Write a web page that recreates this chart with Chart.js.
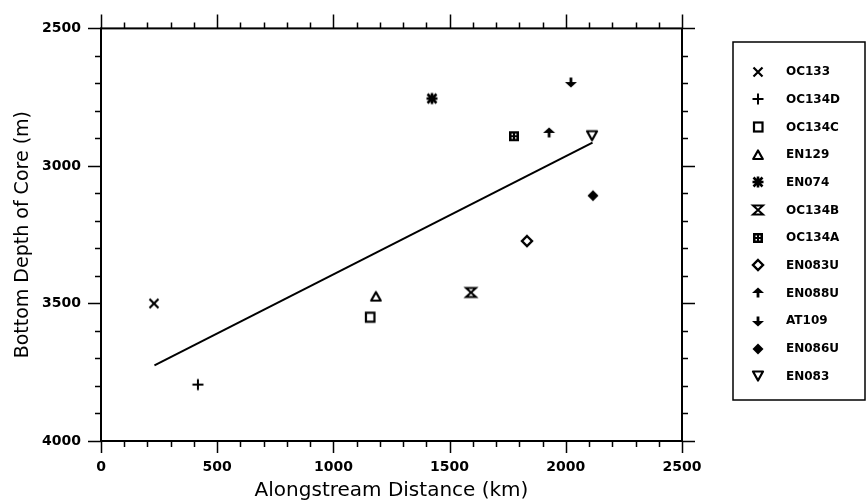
<!DOCTYPE html>
<html>
<head>
<meta charset="utf-8">
<script src="https://cdn.jsdelivr.net/npm/chart.js@4.4.1/dist/chart.umd.min.js"></script>
<style>
  html, body { margin: 0; padding: 0; background: #fff; }
</style>
</head>
<body>
<canvas id="chart" width="867" height="503"></canvas>
<script>
// cores, in legend order
const coreNames = ['OC133', 'OC134D', 'OC134C', 'EN129', 'EN074', 'OC134B',
                   'OC134A', 'EN083U', 'EN088U', 'AT109', 'EN086U', 'EN083'];
const distanceKm = [228, 417, 1157, 1183, 1424, 1592, 1777, 1833, 1928, 2022, 2117, 2113];
const depthM = [3500, 3795, 3550, 3475, 2755, 3460, 2892, 3273, 2880, 2695, 3108, 2890];
const markerKinds = ['x', 'plus', 'square', 'triangle', 'star', 'hourglass',
                     'dotbox', 'diamond', 'arrowUp', 'arrowDown', 'diamondFill', 'triangleDown'];

// regression line end points
const fitDistance = [230, 2115];
const fitDepth = [3725, 2915];

const xRange = [0, 2500];
const yRange = [2500, 4000];
const majorStep = 500;
const minorStep = 100;

function makeMarker(kind) {
    const c = document.createElement('canvas');
    c.width = 16;
    c.height = 16;
    const g = c.getContext('2d');
    g.translate(8, 8);
    g.strokeStyle = '#000';
    g.fillStyle = '#000';
    g.lineWidth = 2.2;
    g.beginPath();
    switch (kind) {
        case 'x':
            g.moveTo(-4.5, -4.5); g.lineTo(4.5, 4.5);
            g.moveTo(-4.5, 4.5); g.lineTo(4.5, -4.5);
            g.stroke();
            break;
        case 'plus':
            g.lineWidth = 2;
            g.moveTo(-5.5, 0); g.lineTo(5.5, 0);
            g.moveTo(0, -5.5); g.lineTo(0, 5.5);
            g.stroke();
            break;
        case 'square':
            g.strokeRect(-4, -4.5, 8.5, 9);
            break;
        case 'triangle':
            g.lineJoin = 'round';
            g.moveTo(0, -4.5); g.lineTo(4.8, 4); g.lineTo(-4.8, 4); g.closePath();
            g.stroke();
            break;
        case 'star':
            g.lineWidth = 2.6;
            g.moveTo(-5.5, 0); g.lineTo(5.5, 0);
            g.moveTo(0, -5.5); g.lineTo(0, 5.5);
            g.moveTo(-4.5, -4.5); g.lineTo(4.5, 4.5);
            g.moveTo(-4.5, 4.5); g.lineTo(4.5, -4.5);
            g.stroke();
            break;
        case 'hourglass':
            g.lineJoin = 'miter';
            g.lineWidth = 2;
            g.moveTo(-5, -4.5); g.lineTo(5, -4.5); g.lineTo(-5, 4.5);
            g.lineTo(5, 4.5); g.closePath();
            g.stroke();
            break;
        case 'dotbox':
            g.fillRect(-5, -5, 10, 10);
            g.fillStyle = '#fff';
            g.fillRect(-2.5, -2.5, 1.5, 1.5);
            g.fillRect(1, -2.5, 1.5, 1.5);
            g.fillRect(-2.5, 1, 1.5, 1.5);
            g.fillRect(1, 1, 1.5, 1.5);
            break;
        case 'diamond':
            g.lineWidth = 2.4;
            g.moveTo(0, -5); g.lineTo(5, 0); g.lineTo(0, 5); g.lineTo(-5, 0); g.closePath();
            g.stroke();
            break;
        case 'arrowUp':
            g.moveTo(0, -5.5); g.lineTo(6, 0); g.lineTo(-6, 0); g.closePath();
            g.fill();
            g.fillRect(-1.4, -1, 2.8, 5.5);
            break;
        case 'arrowDown':
            g.moveTo(0, 5.5); g.lineTo(6, 0); g.lineTo(-6, 0); g.closePath();
            g.fill();
            g.fillRect(-1.4, -4.5, 2.8, 5.5);
            break;
        case 'diamondFill':
            g.moveTo(0, -5.5); g.lineTo(5.5, 0); g.lineTo(0, 5.5); g.lineTo(-5.5, 0); g.closePath();
            g.fill();
            break;
        case 'triangleDown':
            g.lineJoin = 'round';
            g.moveTo(-5, -4.5); g.lineTo(5, -4.5); g.lineTo(0, 4.5); g.closePath();
            g.stroke();
            break;
    }
    return c;
}

const markers = markerKinds.map(makeMarker);

const datasets = coreNames.map((name, i) => ({
    label: name,
    data: [{ x: distanceKm[i], y: depthM[i] }],
    pointStyle: markers[i],
    pointRadius: 6,
    pointHoverRadius: 6,
    backgroundColor: '#000',
    borderColor: '#000'
}));

datasets.push({
    label: 'fit',
    data: fitDistance.map((x, i) => ({ x: x, y: fitDepth[i] })),
    showLine: true,
    pointRadius: 0,
    borderColor: '#000',
    borderWidth: 2,
    tension: 0
});

// frame with outward ticks on all four sides
const framePlugin = {
    id: 'frame',
    beforeDatasetsDraw(chart) {
        const { ctx, chartArea: a, scales: { x, y } } = chart;
        ctx.save();
        ctx.strokeStyle = '#000';
        ctx.lineWidth = 2;
        ctx.lineCap = 'butt';
        ctx.strokeRect(a.left, a.top, a.right - a.left, a.bottom - a.top);
        ctx.lineWidth = 1.5;
        ctx.beginPath();
        for (let v = xRange[0]; v <= xRange[1]; v += minorStep) {
            const px = Math.round(x.getPixelForValue(v)) + 0.5;
            const major = v % majorStep === 0;
            ctx.moveTo(px, a.bottom);
            ctx.lineTo(px, a.bottom + (major ? 12 : 6));
            ctx.moveTo(px, a.top);
            ctx.lineTo(px, a.top - (major ? 14 : 6));
        }
        for (let v = yRange[0]; v <= yRange[1]; v += minorStep) {
            const py = Math.round(y.getPixelForValue(v)) + 0.5;
            const major = v % majorStep === 0;
            ctx.moveTo(a.left, py);
            ctx.lineTo(a.left - (major ? 13 : 6), py);
            ctx.moveTo(a.right, py);
            ctx.lineTo(a.right + (major ? 13 : 6), py);
        }
        ctx.stroke();
        ctx.restore();
    }
};

// boxed legend at the right
const boxLegendPlugin = {
    id: 'boxLegend',
    afterDraw(chart) {
        const ctx = chart.ctx;
        const box = { left: 733, top: 42, right: 865, bottom: 400 };
        ctx.save();
        ctx.strokeStyle = '#000';
        ctx.lineWidth = 1.5;
        ctx.strokeRect(box.left, box.top, box.right - box.left, box.bottom - box.top);
        ctx.fillStyle = '#000';
        ctx.font = 'bold 12px "DejaVu Sans"';
        ctx.textBaseline = 'middle';
        ctx.textAlign = 'left';
        coreNames.forEach((name, i) => {
            const cy = 71.5 + i * 27.7;
            const m = markers[i];
            ctx.drawImage(m, 758 - m.width / 2, Math.round(cy - m.height / 2));
            ctx.fillText(name, 786, cy + 0.5);
        });
        ctx.restore();
    }
};

Chart.defaults.font.family = '"DejaVu Sans"';
Chart.defaults.color = '#000';

const plainNumber = (v) => String(v);

new Chart(document.getElementById('chart'), {
    type: 'scatter',
    data: { datasets: datasets },
    options: {
        responsive: false,
        animation: false,
        devicePixelRatio: 1,
        layout: { padding: { left: 0, top: 24, right: 185, bottom: 0 } },
        plugins: {
            legend: { display: false },
            tooltip: { enabled: false }
        },
        scales: {
            x: {
                type: 'linear',
                min: xRange[0],
                max: xRange[1],
                grid: { display: false, drawTicks: false },
                border: { display: false },
                ticks: {
                    stepSize: majorStep,
                    padding: 18,
                    font: { size: 14, weight: 'bold' },
                    maxRotation: 0,
                    callback: plainNumber
                },
                title: {
                    display: true,
                    text: 'Alongstream Distance (km)',
                    font: { size: 20 },
                    padding: { top: 0, bottom: 0 }
                },
                afterFit(scale) { scale.height = 62; }
            },
            y: {
                type: 'linear',
                reverse: true,
                min: yRange[0],
                max: yRange[1],
                grid: { display: false, drawTicks: false },
                border: { display: false },
                ticks: {
                    stepSize: majorStep,
                    padding: 20,
                    font: { size: 14, weight: 'bold' },
                    callback: plainNumber
                },
                title: {
                    display: true,
                    text: 'Bottom Depth of Core (m)',
                    font: { size: 19 },
                    padding: { top: 12, bottom: 0 }
                },
                afterFit(scale) { scale.width = 101; }
            }
        }
    },
    plugins: [framePlugin, boxLegendPlugin]
});
</script>
</body>
</html>
